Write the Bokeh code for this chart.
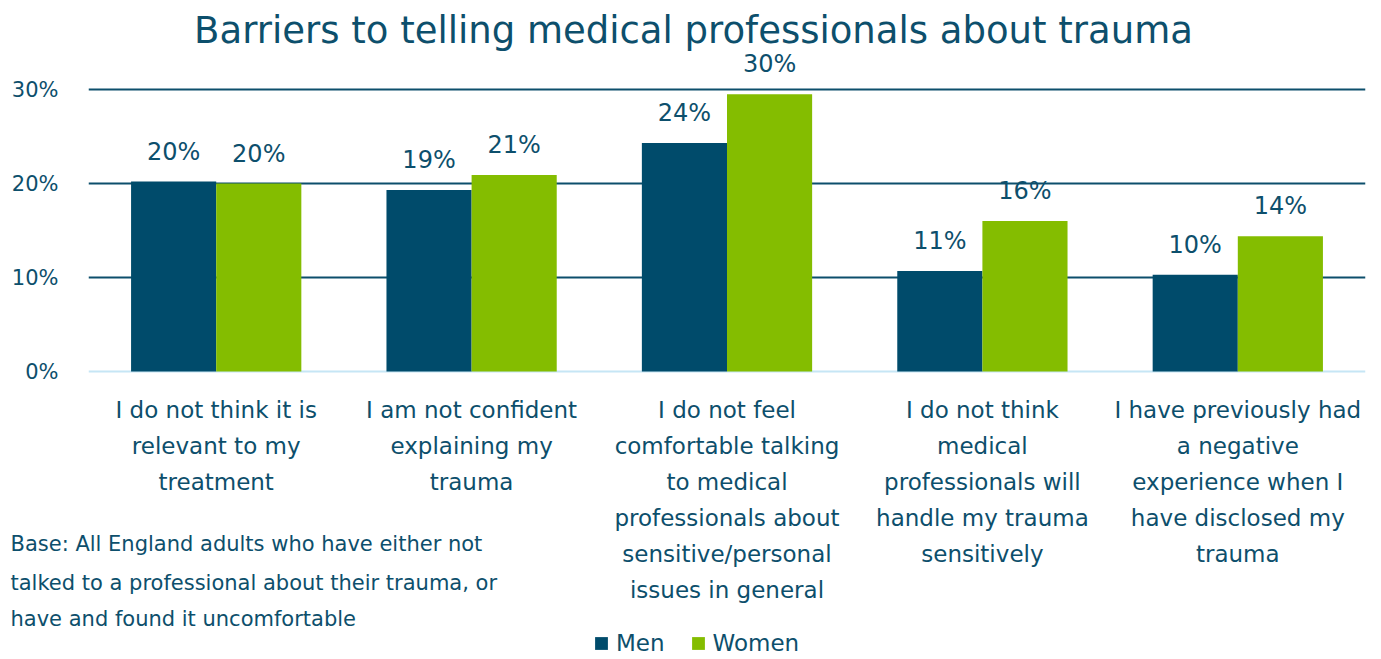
from bokeh.plotting import figure
from bokeh.models import (FactorRange, Range1d, FixedTicker, PrintfTickFormatter,
                          Span, Label, Legend, LegendItem, ColumnDataSource)
from bokeh.transform import dodge
from bokeh.core.properties import value
from bokeh.embed import file_html
from bokeh.resources import INLINE

# ---------------- data ----------------
categories = [
    "I do not think it is\nrelevant to my\ntreatment",
    "I am not confident\nexplaining my\ntrauma",
    "I do not feel\ncomfortable talking\nto medical\nprofessionals about\nsensitive/personal\nissues in general",
    "I do not think\nmedical\nprofessionals will\nhandle my trauma\nsensitively",
    "I have previously had\na negative\nexperience when I\nhave disclosed my\ntrauma",
]
men = [20.2, 19.3, 24.3, 10.7, 10.3]
women = [20.0, 20.9, 29.5, 16.0, 14.4]
men_labels = ["20%", "19%", "24%", "11%", "10%"]
women_labels = ["20%", "21%", "30%", "16%", "14%"]
y_ticks = [0, 10, 20, 30]
series_names = ["Men", "Women"]
title_text = "Barriers to telling medical professionals about trauma"
base_note = [
    "Base: All England adults who have either not",
    "talked to a professional about their trauma, or",
    "have and found it uncomfortable",
]

# ---------------- style ----------------
FONT = "DejaVu Sans"
TXT = "#0d4f6c"
MEN_C = "#004b6b"
WOMEN_C = "#84bd00"
GRID_C = "#0d4f6c"
ZERO_C = "#c6e6f5"

W, H = 1373, 659
LEFT, RIGHT = 88, 8
ZERO_PX = 371          # pixel row (from top) of y=0
PX_PER_UNIT = 9.4

y_top = ZERO_PX / PX_PER_UNIT
y_bottom = -(H - ZERO_PX) / PX_PER_UNIT

p = figure(width=W, height=H, x_range=FactorRange(*categories, range_padding=0),
           y_range=Range1d(y_bottom, y_top), x_axis_location=None,
           output_backend="svg", toolbar_location=None,
           min_border_left=LEFT, min_border_right=RIGHT,
           min_border_top=0, min_border_bottom=0)
p.outline_line_color = None
p.background_fill_color = "white"
p.border_fill_color = "white"

# y axis
ya = p.yaxis[0]
ya.ticker = FixedTicker(ticks=y_ticks)
ya.formatter = PrintfTickFormatter(format="%d%%")
ya.axis_line_color = None
ya.major_tick_line_color = None
ya.minor_tick_line_color = None
ya.major_tick_out = 0
ya.major_tick_in = 0
ya.major_label_standoff = 30
ya.major_label_text_font = FONT
ya.major_label_text_font_size = "21px"
ya.major_label_text_color = TXT

p.xgrid.visible = False
p.ygrid.ticker = FixedTicker(ticks=[t for t in y_ticks if t > 0])
p.ygrid.grid_line_color = GRID_C
p.ygrid.grid_line_width = 2

p.add_layout(Span(location=0, dimension="width", line_color=ZERO_C,
                  line_width=2, level="underlay"))

src = ColumnDataSource(dict(cat=categories, men=men, women=women,
                            men_lab=men_labels, women_lab=women_labels))

r_men = p.vbar(x=dodge("cat", -1/6, range=p.x_range), top="men", width=1/3,
               source=src, fill_color=MEN_C, line_color=None)
r_women = p.vbar(x=dodge("cat", 1/6, range=p.x_range), top="women", width=1/3,
                 source=src, fill_color=WOMEN_C, line_color=None)

for col, lab, off in (("men", "men_lab", -1/6), ("women", "women_lab", 1/6)):
    p.text(x=dodge("cat", off, range=p.x_range), y=col, text=lab, source=src,
           text_align="center", text_baseline="middle", y_offset=-30,
           text_font=value(FONT), text_font_size="24px", text_color=TXT)

# category labels (one row per line)
lx, ltxt, loff, ly = [], [], [], []
for c in categories:
    for i, line in enumerate(c.split("\n")):
        lx.append(c)
        ltxt.append(line)
        loff.append(38 + 36 * i)
        ly.append(0)
p.text(x="x", y="y", text="t", y_offset="o",
       source=ColumnDataSource(dict(x=lx, y=ly, t=ltxt, o=loff)),
       text_align="center", text_baseline="middle",
       text_font=value(FONT), text_font_size="23px", text_color=TXT)

# title
p.add_layout(Label(x=605, y=H - 30, x_units="screen", y_units="screen",
                   text=title_text, text_align="center", text_baseline="middle",
                   text_font=FONT, text_font_size="37px", text_color=TXT))

# base note (overlay level so it can extend left of the frame)
bn = p.text(x=[0] * len(base_note), y=[0] * len(base_note), text=base_note,
            x_offset=-78, y_offset=[172, 211, 247],
            text_align="left", text_baseline="middle",
            text_font=value(FONT), text_font_size="21px", text_color=TXT)
bn.level = "overlay"

legend = Legend(items=[LegendItem(label=series_names[0], renderers=[r_men]),
                       LegendItem(label=series_names[1], renderers=[r_women])],
                orientation="horizontal", location=(505, 3),
                glyph_width=16, glyph_height=16, label_standoff=7, spacing=25,
                padding=0, margin=0, border_line_color=None,
                background_fill_alpha=0,
                label_text_font=FONT, label_text_font_size="23px",
                label_text_color=TXT)
p.add_layout(legend)

open("out.html", "w").write(file_html(p, INLINE))
